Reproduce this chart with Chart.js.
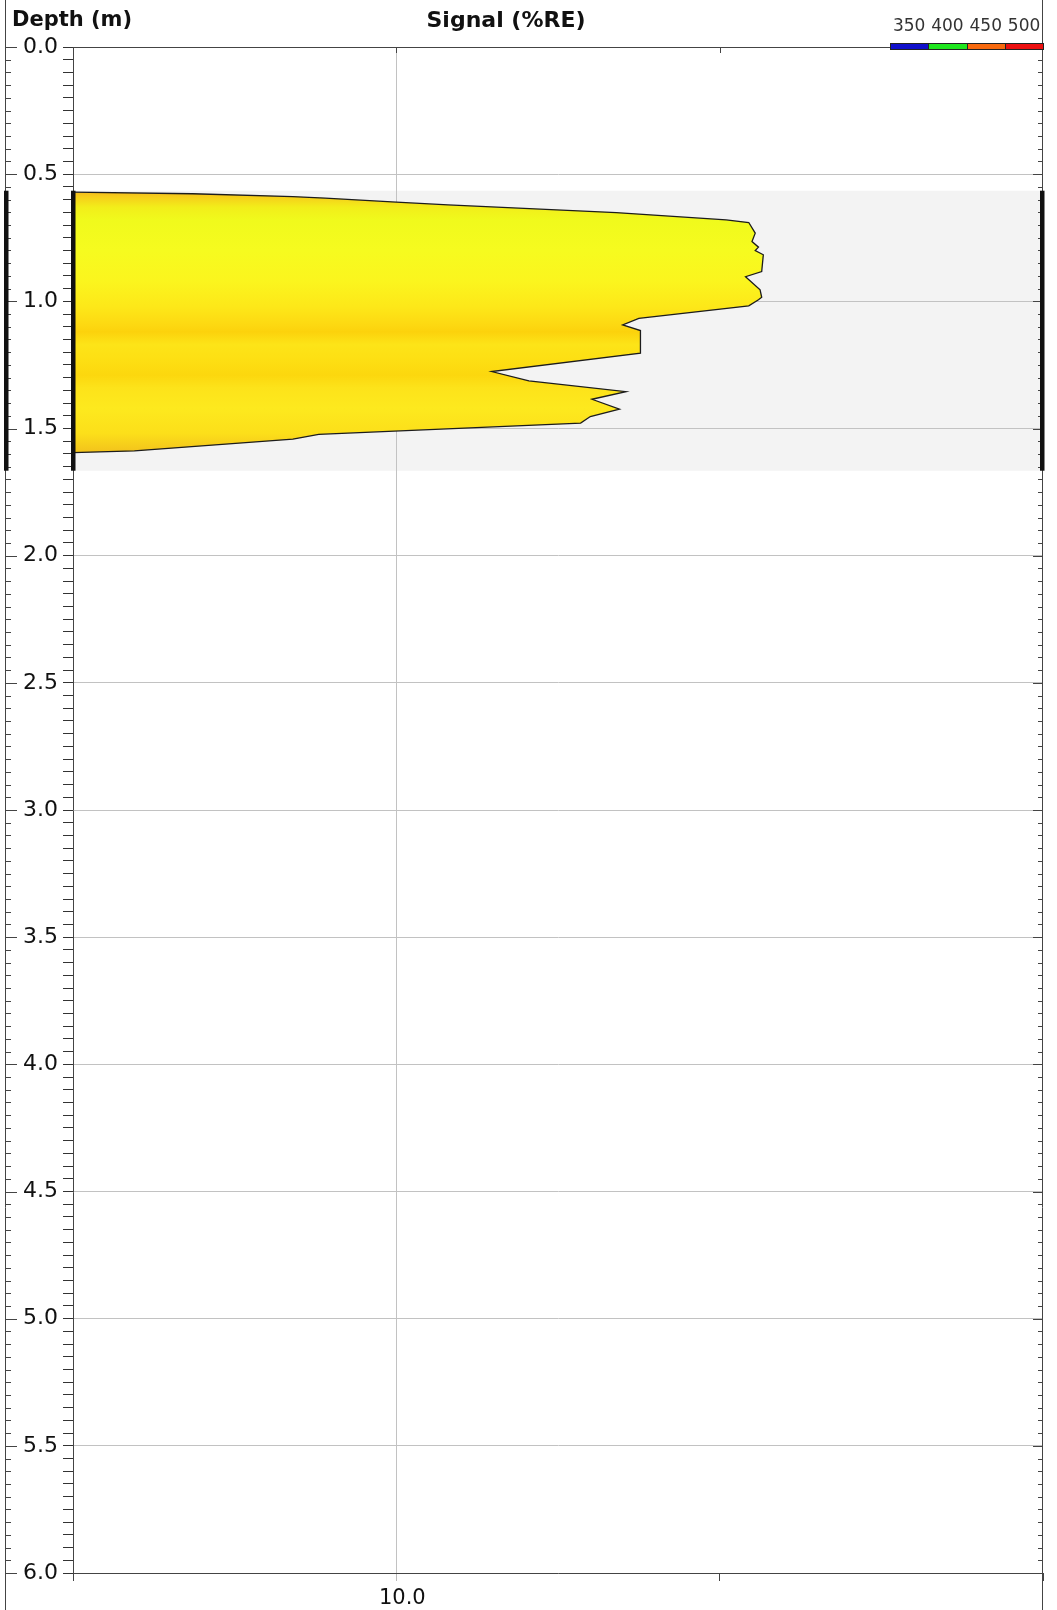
<!DOCTYPE html>
<html>
<head>
<meta charset="utf-8">
<title>Signal (%RE) by depth</title>
<script src="https://cdn.jsdelivr.net/npm/chart.js@4.4.1/dist/chart.umd.min.js"></script>
<style>
  body { margin: 0; background: #fff; }
  #wrap { position: relative; width: 1057px; height: 1610px; overflow: hidden; }
  #plot { position: absolute; left: 0; top: 0; }
  .head { position: absolute; top: 7px; font: bold 21px 'DejaVu Sans', sans-serif; color: #111; white-space: nowrap; }
  #depth-title { left: 12px; }
  #signal-title { left: 506px; transform: translateX(-50%); font-size: 22px; }
  .scale-label { position: absolute; top: 15px; width: 40px; margin-left: -20px; text-align: center; font: 17px 'DejaVu Sans', sans-serif; color: #333; }
  .scale-chip { position: absolute; top: 43px; height: 5px; border: 1px solid #222; box-sizing: content-box; }
</style>
</head>
<body>
<div id="wrap">
  <canvas id="plot" width="1057" height="1610"></canvas>
  <div class="head" id="depth-title">Depth (m)</div>
  <div class="head" id="signal-title">Signal (%RE)</div>
  <div id="scale-key"></div>
</div>
<script>
// depth profile of the signal
var depths = [0.571, 0.577, 0.588, 0.594, 0.610, 0.621, 0.651, 0.680, 0.690, 0.732, 0.765, 0.787, 0.800, 0.817,
  0.883, 0.903, 0.955, 0.984, 0.994, 1.018, 1.067, 1.093, 1.115, 1.204, 1.276, 1.313, 1.355, 1.385, 1.424,
  1.453, 1.479, 1.523, 1.542, 1.588, 1.595];
var signals = [0.0, 3.7, 6.8, 7.8, 10.0, 11.6, 16.8, 20.2, 20.9, 21.1, 21.0, 21.2, 21.1, 21.35,
  21.3, 20.8, 21.25, 21.3, 21.2, 20.9, 17.5, 17.0, 17.55, 17.55, 12.95, 14.1, 17.1, 16.05, 16.9,
  16.0, 15.7, 7.6, 6.8, 1.9, 0.0];
var zoneTop = 0.565;
var zoneBase = 1.666;
var xLabelValues = [10];
var keyLabels = ['350', '400', '450', '500'];
var keyColors = ['#1010cc', '#1ee61e', '#f8690e', '#ec1010'];

// colour bands of the fill, by depth
var bandDepths = [0.565, 0.59, 0.63, 0.68, 0.80, 0.92, 1.02, 1.09, 1.12, 1.17, 1.22, 1.29, 1.34, 1.42, 1.52, 1.60];
var bandColors = ['#f3b61e', '#f6cf1a', '#f2ee1a', '#f0fa1c', '#f6fb1f', '#fbf51e', '#fde819', '#fdd912', '#fcd20c',
  '#fde418', '#fde014', '#fcd70e', '#fde31a', '#fde91e', '#fcdf1a', '#f2c01c'];

var keyBox = document.getElementById('scale-key');
var chipLeft = 890;
var chipWidth = 38.3;
for (var i = 0; i < keyLabels.length; i++) {
  var lab = document.createElement('div');
  lab.className = 'scale-label';
  lab.textContent = keyLabels[i];
  lab.style.left = (chipLeft + chipWidth * i + chipWidth / 2) + 'px';
  keyBox.appendChild(lab);
  var chip = document.createElement('div');
  chip.className = 'scale-chip';
  chip.style.left = (chipLeft + chipWidth * i) + 'px';
  chip.style.width = (chipWidth - 1) + 'px';
  chip.style.background = keyColors[i];
  keyBox.appendChild(chip);
}

function isMajor(v) {
  return Math.abs(v * 2 - Math.round(v * 2)) < 1e-6;
}

function fillGradient(context) {
  var chart = context.chart;
  if (!chart.chartArea || !chart.scales.y) return bandColors[2];
  var ys = chart.scales.y;
  var top = ys.getPixelForValue(bandDepths[0]);
  var bottom = ys.getPixelForValue(bandDepths[bandDepths.length - 1]);
  var g = chart.ctx.createLinearGradient(0, top, 0, bottom);
  for (var i = 0; i < bandDepths.length; i++) {
    g.addColorStop((ys.getPixelForValue(bandDepths[i]) - top) / (bottom - top), bandColors[i]);
  }
  return g;
}

var framePlugin = {
  id: 'frame',
  beforeDraw: function(chart) {
    var ctx = chart.ctx;
    var area = chart.chartArea;
    var ys = chart.scales.y;
    var t = ys.getPixelForValue(zoneTop);
    var b = ys.getPixelForValue(zoneBase);
    ctx.save();
    ctx.fillStyle = '#f3f3f3';
    ctx.fillRect(area.left, t, area.right - area.left, b - t);
    ctx.restore();
  },
  afterDraw: function(chart) {
    var ctx = chart.ctx;
    var area = chart.chartArea;
    var ys = chart.scales.y;
    var xs = chart.scales.x;
    var h = chart.height;
    ctx.save();
    ctx.strokeStyle = '#444';
    ctx.lineWidth = 1;
    ctx.beginPath();
    // top border and the two outer frame lines
    ctx.moveTo(area.left, Math.round(area.top) + 0.5);
    ctx.lineTo(area.right, Math.round(area.top) + 0.5);
    ctx.moveTo(5.5, 0);
    ctx.lineTo(5.5, h);
    ctx.moveTo(Math.round(area.right) - 0.5, 0);
    ctx.lineTo(Math.round(area.right) - 0.5, h);
    // depth ticks on the outer line and on the right edge
    for (var i = 0; i <= 120; i++) {
      var v = i / 20;
      var py = Math.round(ys.getPixelForValue(v)) + 0.5;
      var major = isMajor(v);
      ctx.moveTo(5.5, py);
      ctx.lineTo(major ? 17 : 11, py);
      ctx.moveTo(area.right, py);
      ctx.lineTo(area.right - (major ? 10 : 5), py);
    }
    // short inward ticks on the top border
    [10, 20].forEach(function(v) {
      var px = Math.round(xs.getPixelForValue(v)) + 0.5;
      ctx.moveTo(px, area.top);
      ctx.lineTo(px, area.top + 6);
    });
    ctx.stroke();
    // thick bars marking the logged interval
    var t = ys.getPixelForValue(zoneTop);
    var b = ys.getPixelForValue(zoneBase);
    ctx.fillStyle = '#111';
    ctx.fillRect(4, t, 4.5, b - t);
    ctx.fillRect(area.left - 2, t, 4.5, b - t);
    ctx.fillRect(area.right - 3, t, 4.5, b - t);
    ctx.restore();
  }
};

Chart.defaults.font.family = "'DejaVu Sans', sans-serif";

var chart = new Chart(document.getElementById('plot').getContext('2d'), {
  type: 'line',
  data: {
    datasets: [{
      data: depths.map(function(d, i) { return {x: signals[i], y: d}; }),
      borderColor: '#1c1c1c',
      borderWidth: 1.3,
      pointRadius: 0,
      tension: 0,
      fill: 'origin',
      backgroundColor: fillGradient
    }]
  },
  options: {
    responsive: false,
    animation: false,
    indexAxis: 'y',
    layout: { padding: { left: 0, top: 47, right: 14, bottom: 0 } },
    plugins: { legend: { display: false }, tooltip: { enabled: false } },
    scales: {
      x: {
        type: 'linear',
        min: 0,
        max: 30,
        afterFit: function(scale) { scale.height = 37; },
        border: { color: '#444' },
        grid: {
          color: function(c) { return c.tick && xLabelValues.indexOf(c.tick.value) >= 0 ? '#c2c2c2' : 'rgba(0,0,0,0)'; },
          tickColor: function(c) { return c.tick && xLabelValues.indexOf(c.tick.value) >= 0 ? '#bbbbbb' : '#444'; },
          tickLength: 8
        },
        ticks: {
          stepSize: 10,
          padding: 5,
          labelOffset: 6,
          maxRotation: 0,
          color: '#111',
          font: { size: 21 },
          callback: function(v) { return xLabelValues.indexOf(v) >= 0 ? v.toFixed(1) : ''; }
        }
      },
      y: {
        type: 'linear',
        reverse: true,
        min: 0,
        max: 6,
        afterFit: function(scale) { scale.width = 73; },
        border: { color: '#444' },
        grid: {
          color: function(c) { return c.tick && isMajor(c.tick.value) ? '#c2c2c2' : 'rgba(0,0,0,0)'; },
          tickColor: '#333',
          tickLength: 10
        },
        ticks: {
          stepSize: 0.05,
          autoSkip: false,
          padding: 5,
          color: '#111',
          font: { size: 22 },
          callback: function(v) { return isMajor(v) ? v.toFixed(1) : ''; }
        }
      }
    }
  },
  plugins: [framePlugin]
});
</script>
</body>
</html>
